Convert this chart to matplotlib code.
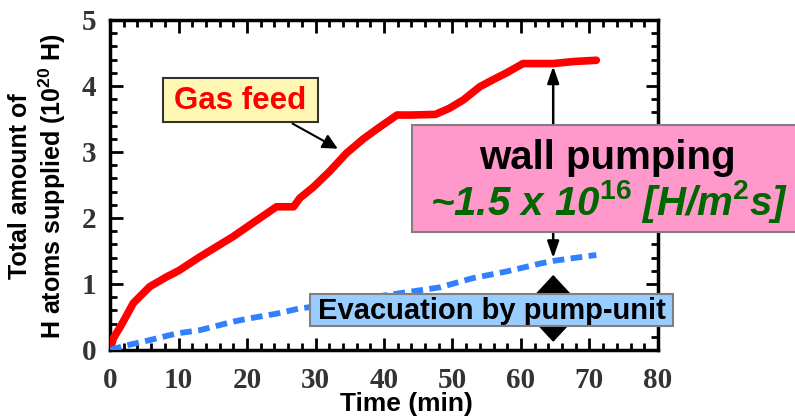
import matplotlib
matplotlib.use("Agg")
import matplotlib.pyplot as plt
from matplotlib.patches import Rectangle
from matplotlib.ticker import MultipleLocator

plt.rcParams["mathtext.fontset"] = "custom"
plt.rcParams["mathtext.bf"] = "Liberation Sans:bold"
plt.rcParams["mathtext.it"] = "Liberation Sans:bold:italic"
plt.rcParams["mathtext.rm"] = "Liberation Sans:bold"

# gas feed (red) and pump-unit evacuation (blue), 1e20 H
feed_t = [0, 0.5, 1.5, 3.4, 5.8, 8.3, 10, 13.1, 15, 18, 20.5, 22.9, 24.3, 26.8,
          27.7, 29.7, 32, 34.5, 37, 39.4, 41.9, 44, 47.5, 49.5, 51.6, 54, 56,
          57.9, 60.3, 62.5, 64.7, 67.6, 71]
feed_h = [0, 0.18, 0.35, 0.71, 0.96, 1.11, 1.2, 1.41, 1.53, 1.72, 1.9, 2.07,
          2.17, 2.17, 2.3, 2.47, 2.7, 2.98, 3.2, 3.38, 3.56, 3.56, 3.57, 3.66,
          3.79, 3.99, 4.1, 4.2, 4.34, 4.34, 4.34, 4.37, 4.39]
pump_t = [0, 2, 5.8, 9.7, 13.1, 18, 20.4, 24.3, 27.7, 30, 35, 42.3, 48.2, 53,
          57.9, 62.8, 64.7, 71]
pump_h = [0, 0.06, 0.15, 0.25, 0.3, 0.43, 0.48, 0.55, 0.63, 0.66, 0.75, 0.86,
          0.95, 1.09, 1.19, 1.31, 1.35, 1.44]

W, H = 795, 420
fig = plt.figure(figsize=(7.95, 4.2), dpi=100)
ax = fig.add_axes([110 / W, 1 - 350 / H, 548 / W, 330 / H])

ax.plot(feed_t, feed_h, color="#ff0000", lw=5.5, solid_capstyle="round", zorder=3)
ax.plot(pump_t, pump_h, color="#3380ff", lw=4.2, dashes=(2, 1.1), zorder=3)

ax.set_xlim(0, 80)
ax.set_ylim(0, 5)
ax.xaxis.set_major_locator(MultipleLocator(10))
ax.xaxis.set_minor_locator(MultipleLocator(2))
ax.yaxis.set_major_locator(MultipleLocator(1))
ax.yaxis.set_minor_locator(MultipleLocator(0.2))
ax.tick_params(which="both", direction="in", top=True, right=True, width=2)
ax.tick_params(which="major", length=9)
ax.tick_params(axis="x", which="major", pad=12)
ax.tick_params(axis="y", which="major", pad=10)
ax.tick_params(which="minor", length=5)
for sp in ax.spines.values():
    sp.set_linewidth(2.5)
for lab in ax.get_xticklabels() + ax.get_yticklabels():
    lab.set_family("Liberation Serif")
    lab.set_weight("bold")
    lab.set_fontsize(21)
    lab.set_color("#333333")

fig.text(406 / W, 1 - 404 / H, "Time (min)", ha="center", va="center",
         fontsize=19, weight="bold", family="Liberation Sans")
fig.text(38 / W, 1 - 186 / H, "Total amount of\nH atoms supplied (10$^{\\mathbf{20}}$ H)",
         rotation=90, ha="center", va="center", multialignment="center",
         fontsize=18, weight="bold", family="Liberation Sans", linespacing=1.15)


def box(x0, y0, x1, y1, fc, ec):
    fig.patches.append(Rectangle((x0 / W, 1 - y1 / H), (x1 - x0) / W, (y1 - y0) / H,
                                 transform=fig.transFigure, fc=fc, ec=ec, lw=1.5,
                                 zorder=5))


# arrows
ax.annotate("", xy=(33.6, 3.03), xytext=(26.3, 3.45),
            arrowprops=dict(arrowstyle="-|>,head_length=0.9,head_width=0.45",
                            color="black", lw=1.5), zorder=4)
ax.annotate("", xy=(64.7, 4.34), xytext=(64.7, 3.3),
            arrowprops=dict(arrowstyle="-|>,head_length=1.0,head_width=0.35",
                            color="black", lw=1.8), zorder=4)
ax.annotate("", xy=(64.7, 1.35), xytext=(64.7, 1.9),
            arrowprops=dict(arrowstyle="-|>,head_length=1.0,head_width=0.35",
                            color="black", lw=1.8), zorder=4)
ax.annotate("", xy=(64.7, 0.08), xytext=(64.7, 1.18),
            arrowprops=dict(arrowstyle="<|-|>,head_length=1.4,head_width=1.3",
                            color="black", lw=2), zorder=4)

box(163, 78, 318, 122, "#fff8b4", "#333333")
fig.text(240 / W, 1 - 101 / H, "Gas feed", ha="center", va="center", color="#ff0000",
         fontsize=22.5, weight="bold", family="Liberation Sans", zorder=6)

box(412, 125, 800, 232, "#ff99cc", "#808080")
fig.text(607 / W, 1 - 158 / H, "wall pumping", ha="center", va="center", color="black",
         fontsize=29, weight="bold", family="Liberation Sans", zorder=6)
fig.text(609 / W, 1 - 215 / H, "~1.5 x 10$^{\\mathit{16}}$ [H/m$^{\\mathit{2}}$s]",
         ha="center", va="baseline", color="#006600", fontsize=29, weight="bold",
         style="italic", family="Liberation Sans", zorder=6)

box(310, 294, 673, 326, "#99ccff", "#808080")
fig.text(492 / W, 1 - 311 / H, "Evacuation by pump-unit", ha="center", va="center",
         color="black", fontsize=21, weight="bold", family="Liberation Sans", zorder=6)

fig.savefig("out.png", dpi=100)
